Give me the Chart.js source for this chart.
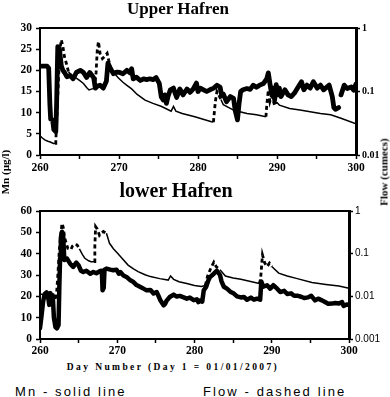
<!DOCTYPE html>
<html><head><meta charset="utf-8">
<script src="https://cdn.jsdelivr.net/npm/chart.js@4.4.1/dist/chart.umd.min.js"></script>
<style>
html,body{margin:0;padding:0;background:#fff;}
body{width:390px;height:397px;position:relative;overflow:hidden;}
canvas{position:absolute;left:0;}
.t{position:absolute;white-space:nowrap;color:#000;}
.serif{font-family:"Liberation Serif","Times New Roman",serif;font-weight:bold;}
.sans{font-family:"Liberation Sans",Arial,sans-serif;}
.rot{transform:translate(-50%,-50%) rotate(-90deg);}
</style></head><body>
<canvas id="c1" width="390" height="175" style="top:0px"></canvas>
<canvas id="c2" width="390" height="172" style="top:190px"></canvas>
<div class="t serif" style="left:78px;width:200px;text-align:center;top:0px;font-size:17px;line-height:17px;">Upper Hafren</div>
<div class="t serif" style="left:76px;width:200px;text-align:center;top:180px;font-size:20px;line-height:20px;">lower Hafren</div>
<div class="t serif rot" style="left:5px;top:172px;font-size:11px;line-height:11px;">Mn (µg/l)</div>
<div class="t serif rot" style="left:384px;top:172px;font-size:11px;line-height:11px;">Flow (cumecs)</div>
<div class="t serif" style="left:0px;width:346px;text-align:center;top:362px;font-size:9.5px;line-height:11px;letter-spacing:2.4px;">Day Number (Day 1 = 01/01/2007)</div>
<div class="t sans" style="left:15px;top:385px;font-size:13px;line-height:13px;letter-spacing:2.1px;">Mn - solid line</div>
<div class="t sans" style="left:203px;top:385px;font-size:13px;line-height:13px;letter-spacing:2.1px;">Flow - dashed line</div>
<script>
// ---------- DATA ----------
const dayTicksMajor = [260, 270, 280, 290, 300];

const upperMnDays = [260.0,260.9,261.1,261.25,261.35,261.6,261.75,262.0,262.1,262.25,262.45,262.7,262.9,263.1,263.4,263.8,264.2,264.6,265.1,265.5,265.9,266.3,266.8,267.0,267.3,267.6,268.0,268.4,268.6,268.9,269.3,269.7,270.1,270.5,271.0,271.4,271.6,271.8,272.2,272.7,273.1,273.5,273.9,274.3,274.7,275.1,275.35,275.6,275.8,276.0,276.2,276.5,276.9,277.1,277.3,277.7,278.1,278.6,279.0,279.4,279.8,280.0,280.3,280.7,281.1,281.5,282.0,282.4,282.8,283.0,283.2,283.6,284.1,284.5,284.7,285.0,285.2,285.4,285.7,286.2,286.6,287.0,287.4,287.8,288.3,288.7,288.9,289.1,289.3,289.5,289.7,289.9,290.2,290.3,290.5,291.0,291.4,291.8,292.2,292.7,293.1,293.4,293.8,294.2,294.6,295.1,295.5,295.9,296.6,297.0,297.2,297.4,297.8,297.95,298.1,298.5,298.9,299.4,299.7,300.0];
const upperMnVals = [21,21,20.5,12,8.5,8.3,6,5.5,12,25.6,25.2,21,20,19.5,18.5,18.8,18,19.5,20,19.5,18.3,19.5,18.2,15.8,16.3,16.5,15.8,17.4,21.7,20.5,19.2,19.6,19.5,19.2,20,19.4,20.4,18,18.4,17.6,18,17.8,18,17.8,18.3,16.9,13.7,13,14.2,12.2,13.8,15.4,15.8,14.6,13.6,15.6,14.2,15.6,14.8,15.6,17,15,15.8,15.4,15,15.4,15.8,16.5,16,14,14.4,12.6,13.8,13.4,10.6,8.3,12.2,15,15.4,15.7,15.5,16.5,16,16.5,16.9,18,19.4,16.9,14.6,15.8,13,16.6,14.2,15.8,13.8,15.4,14.2,13.8,14.6,16.1,17.3,15.4,16.5,15.8,17.3,15.8,16.5,15.4,16.5,13.8,11.2,10.8,11.2,null,14.2,16.5,15.7,16.1,15.3,16.8];

const upperFlowDays = [260.0,260.3,260.6,261.0,261.3,261.7,261.9,262.0,262.05,262.3,262.5,262.7,262.9,263.1,263.4,263.6,264.0,264.5,265.0,265.5,265.9,266.2,266.6,266.9,267.1,267.25,267.4,267.6,267.9,268.1,268.5,268.7,268.9,269.3,269.9,270.5,271.0,271.6,272.3,273.3,274.3,275.4,276.6,276.9,277.2,278.0,279.6,281.7,281.95,282.2,282.4,282.6,282.9,283.2,284.5,285.3,286.2,287.4,288.6,288.7,288.9,289.1,289.3,289.5,289.7,289.9,290.3,291.6,292.9,294.2,295.5,296.8,298.1,300.0];
const upperFlowVals = [0.020,0.0185,0.0173,0.0165,0.016,0.0152,0.0152,0.017,0.022,0.12,0.45,0.65,0.51,0.35,0.26,0.205,0.18,0.165,0.15,0.134,0.116,0.106,0.11,0.112,0.2,0.45,0.61,0.40,0.33,0.35,0.40,0.31,0.25,0.2,0.165,0.14,0.125,0.11,0.09,0.073,0.065,0.058,0.049,0.058,0.049,0.045,0.040,0.0335,0.033,0.07,0.1,0.09,0.075,0.062,0.051,0.048,0.045,0.043,0.040,0.06,0.105,0.07,0.085,0.074,0.06,0.069,0.061,0.054,0.051,0.048,0.045,0.043,0.038,0.031];

const lowerMnDays = [260.0,260.2,260.4,260.6,260.85,261.05,261.2,261.35,261.5,261.65,261.8,262.0,262.2,262.4,262.5,262.6,262.7,262.85,263.0,263.15,263.5,263.9,264.3,264.7,265.0,265.3,265.6,266.0,266.5,266.9,267.3,267.8,268.0,268.1,268.25,268.35,268.6,269.1,269.5,269.9,270.2,270.4,270.8,271.2,271.7,272.1,272.5,273.0,273.4,273.8,274.3,274.7,275.1,275.3,275.6,276.0,276.2,276.4,276.8,277.3,277.7,278.1,278.6,279.0,279.4,279.9,280.3,280.5,280.7,281.0,281.2,281.5,281.8,282.0,282.5,282.9,283.3,283.5,283.8,284.2,284.7,285.1,285.5,286.0,286.4,286.8,287.3,287.7,288.1,288.5,288.65,288.9,289.4,289.8,290.2,290.7,291.1,291.6,292.0,292.5,292.9,293.3,293.8,294.2,294.7,295.1,295.6,296.0,296.5,296.9,297.3,297.8,298.2,298.7,299.1,299.3,299.7,300.0];
const lowerMnVals = [5,11,17.5,21,21.9,19.7,16,21.5,16.6,20.5,10,5.5,5,6.5,24,38,47.5,50.3,48,37,37.7,35.3,33.8,35.8,34.5,32,31.4,32,30.6,31.4,30.8,31.9,32,22.8,24,32.5,33,32.5,32.2,32.5,30.6,31.4,29.8,29.1,27.5,26.7,25.3,24.4,23.6,22.8,23,21.3,22,20.5,18,15.8,16.5,18,19.7,20.8,19.9,20.2,19.5,18.9,19.4,18.2,18.6,17.3,18,17.5,22.8,24.4,27.5,29,30.6,32,30,27,24.5,23.6,22,21.3,20,19.5,19.7,18.4,19.4,18.4,18.9,18.4,27,24.5,25.2,23.6,25.2,23.6,22,22.6,21.1,21.4,20.3,20.3,19.8,19.2,19.5,20.3,18.1,18.9,18.1,17.3,16.5,16.6,16.9,16.6,17.3,15.5,16.2,16];

const lowerFlowDays = [260.0,260.6,261.3,261.9,262.1,262.3,262.5,262.7,262.85,263.0,263.2,263.6,264.0,264.2,264.5,264.8,265.1,265.5,265.8,266.3,266.6,267.0,267.1,267.2,267.4,267.7,268.0,268.2,268.6,269.0,269.5,270.1,270.7,271.4,272.1,272.7,273.6,274.3,275.5,276.6,276.9,277.3,278.0,279.0,280.0,280.9,281.4,281.7,282.1,282.5,282.8,283.3,284.0,285.0,286.0,287.4,288.4,288.55,288.8,289.1,289.4,289.7,290.0,290.9,292.0,293.3,295.2,297.0,298.7,300.0];
const lowerFlowVals = [0.0115,0.0105,0.0100,0.0092,0.0088,0.03,0.12,0.3,0.51,0.42,0.23,0.133,0.125,0.15,0.166,0.16,0.13,0.095,0.078,0.068,0.065,0.065,0.15,0.43,0.38,0.27,0.31,0.33,0.30,0.175,0.13,0.10,0.075,0.054,0.044,0.038,0.032,0.029,0.026,0.024,0.030,0.025,0.022,0.020,0.018,0.017,0.018,0.03,0.045,0.063,0.05,0.042,0.030,0.027,0.025,0.022,0.020,0.025,0.093,0.06,0.05,0.060,0.05,0.035,0.030,0.026,0.021,0.019,0.0175,0.0155];

const upperMnTicks = [0, 5, 10, 15, 20, 25, 30];
const lowerMnTicks = [0, 10, 20, 30, 40, 50, 60];
const upperFlowTicks = [0.01, 0.1, 1];
const lowerFlowTicks = [0.001, 0.01, 0.1, 1];

// ---------- STYLE ----------
const SERIF = '"Liberation Serif","Times New Roman",serif';
const SANS = '"Liberation Sans",Arial,sans-serif';
const upperDash = [[261.95,263.65],[266.95,268.95],[281.85,282.75],[288.55,290.0]];
const lowerDash = [[262.05,265.2],[267.0,268.7],[281.4,283.2],[288.45,290.0]];

function pts(days, vals){ return days.map((d,i)=>({x:d, y:vals[i]})); }
function inRanges(ctx, ranges){
  const m = (ctx.p0.parsed.x + ctx.p1.parsed.x)/2;
  return ranges.some(r => m >= r[0] && m <= r[1]);
}
const frame = {id:'frame', afterDraw(chart){
  const {ctx, chartArea:a} = chart;
  ctx.save(); ctx.strokeStyle='#000'; ctx.lineWidth=2;
  ctx.beginPath(); ctx.moveTo(a.left-1, a.top); ctx.lineTo(a.right+1, a.top); ctx.stroke();
  ctx.restore();
}};

function makeChart(id, cfg){
  return new Chart(document.getElementById(id), {
    type:'line',
    data:{datasets:[
      {data:pts(cfg.mnDays,cfg.mnVals), yAxisID:'y', borderColor:'#000', borderWidth:cfg.mnWidth,
       pointRadius:0, tension:0, spanGaps:false, borderJoinStyle:'round', borderCapStyle:'round'},
      {data:pts(cfg.flowDays,cfg.flowVals), yAxisID:'y2', borderColor:'#000', borderWidth:1.5,
       pointRadius:0, tension:0,
       segment:{
         borderDash: ctx => inRanges(ctx,cfg.dash) ? [4,3] : undefined,
         borderWidth: ctx => inRanges(ctx,cfg.dash) ? 2.8 : 1.5
       }}
    ]},
    options:{
      responsive:false, animation:false, devicePixelRatio:1, events:[],
      layout:{padding:{top:cfg.padTop,left:0,right:0,bottom:0}},
      plugins:{legend:{display:false}, tooltip:{enabled:false}},
      scales:{
        x:{type:'linear', min:260, max:300,
           afterFit:s=>{s.height=cfg.xH;},
           afterBuildTicks:s=>{ const t=[]; for(let v=260; v<=300; v+=5) t.push({value:v}); s.ticks=t; },
           ticks:{autoSkip:false, maxRotation:0, padding:cfg.xPad, color:'#000',
                  font:{family:SERIF, weight:'bold', size:11.5},
                  callback:v=> dayTicksMajor.includes(v) ? String(v) : ''},
           grid:{drawOnChartArea:false, drawTicks:true, tickLength:4, tickWidth:1.5, tickColor:'#000'},
           border:{display:true, width:2, color:'#000'}},
        y:{type:'linear', position:'left', min:cfg.mnTicks[0], max:cfg.mnTicks[cfg.mnTicks.length-1],
           afterFit:s=>{s.width=40;},
           afterBuildTicks:s=>{ s.ticks=cfg.mnTicks.map(v=>({value:v})); },
           ticks:{padding:4, color:'#000', font:{family:SERIF, weight:'bold', size:11.5}},
           grid:{drawOnChartArea:false, drawTicks:true, tickLength:4, tickWidth:1.5, tickColor:'#000'},
           border:{display:true, width:2, color:'#000'}},
        y2:{type:'logarithmic', position:'right', min:cfg.flowTicks[0], max:cfg.flowTicks[cfg.flowTicks.length-1],
           afterFit:s=>{s.width=cfg.rightW;},
           afterBuildTicks:s=>{ s.ticks=cfg.flowTicks.map(v=>({value:v})); },
           ticks:{padding:2, color:'#000', font:cfg.flowFont, callback:v=>String(v)},
           grid:{drawOnChartArea:false, drawTicks:true, tickLength:4, tickWidth:1.5, tickColor:'#000'},
           border:{display:true, width:3, color:'#000'}}
      }
    },
    plugins:[frame]
  });
}

makeChart('c1', {mnDays:upperMnDays, mnVals:upperMnVals, flowDays:upperFlowDays, flowVals:upperFlowVals,
  mnTicks:upperMnTicks, flowTicks:upperFlowTicks, dash:upperDash, mnWidth:4.8,
  padTop:28, xH:20, xPad:2, rightW:34, flowFont:{family:SERIF, weight:'bold', size:10}});
makeChart('c2', {mnDays:lowerMnDays, mnVals:lowerMnVals, flowDays:lowerFlowDays, flowVals:lowerFlowVals,
  mnTicks:lowerMnTicks, flowTicks:lowerFlowTicks, dash:lowerDash, mnWidth:4.5,
  padTop:21, xH:23, xPad:1, rightW:41, flowFont:{family:SANS, size:10}});
</script>
</body></html>
